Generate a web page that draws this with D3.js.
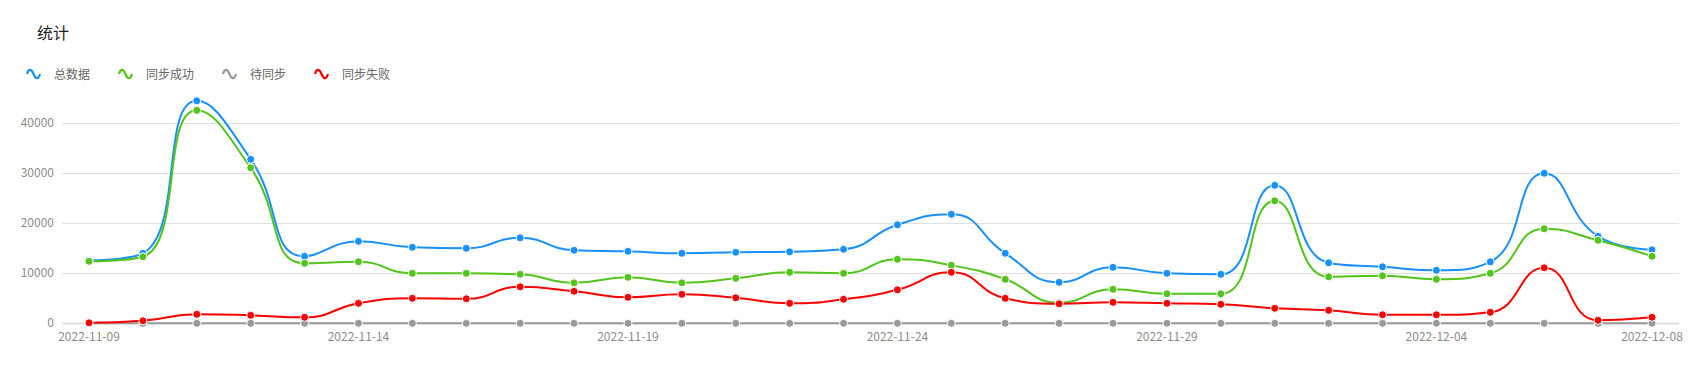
<!DOCTYPE html>
<html>
<head>
<meta charset="utf-8">
<script src="https://cdn.jsdelivr.net/npm/d3@7/dist/d3.min.js"></script>
<style>
html,body{margin:0;padding:0;background:#fff;}
svg{display:block;font-family:"Microsoft YaHei","Noto Sans CJK SC","Noto Sans",sans-serif;}
</style>
</head>
<body>
<svg id="chart" width="1701" height="365"></svg>
<script>
const dates = ["2022-11-09","2022-11-10","2022-11-11","2022-11-12","2022-11-13","2022-11-14","2022-11-15","2022-11-16","2022-11-17","2022-11-18","2022-11-19","2022-11-20","2022-11-21","2022-11-22","2022-11-23","2022-11-24","2022-11-25","2022-11-26","2022-11-27","2022-11-28","2022-11-29","2022-11-30","2022-12-01","2022-12-02","2022-12-03","2022-12-04","2022-12-05","2022-12-06","2022-12-07","2022-12-08"];
const totalData   = [12600,14000,44500,32800,13400,16400,15200,15000,17100,14600,14400,14000,14200,14300,14800,19700,21800,14000,8200,11200,10000,9800,27600,12100,11300,10600,12300,30000,17400,14700];
const successData = [12400,13300,42600,31100,12000,12300,10000,10000,9800,8100,9200,8100,9000,10200,10000,12800,11600,8800,4100,6800,5900,5900,24500,9300,9500,8800,10000,18900,16600,13400];
const pendingData = [0,0,0,0,0,0,0,0,0,0,0,0,0,0,0,0,0,0,0,0,0,0,0,0,0,0,0,0,0,0];
const failedData  = [100,500,1800,1600,1200,4000,5000,4900,7300,6400,5200,5800,5100,4000,4800,6700,10200,5000,3900,4200,4000,3800,3000,2600,1700,1700,2200,11100,600,1200];
const seriesNames = ["总数据","同步成功","待同步","同步失败"];
const seriesColors = ["#1890ff","#52c41a","#999999","#ff0000"];
const yTicks = [0,10000,20000,30000,40000];
const xTickLabels = ["2022-11-09","2022-11-14","2022-11-19","2022-11-24","2022-11-29","2022-12-04","2022-12-08"];
const titleText = "统计";

const svg = d3.select("#chart");
const gridLeft = 62, gridRight = 1679;
const x = d3.scalePoint().domain(dates).range([89, 1652]);
const y = d3.scaleLinear().domain([0, 40000]).range([323.3, 123.3]);

// title
svg.append("text").attr("x", 37).attr("y", 39).attr("font-size", 16).attr("fill", "#222").text(titleText);

// legend
const legendX = [27, 119, 223, 315];
seriesNames.forEach((n, i) => {
  const lx = legendX[i], ly = 74;
  svg.append("path")
    .attr("d", `M${lx},${ly} C${lx+2},${ly-7} ${lx+5},${ly-4} ${lx+6.5},${ly} S${lx+11},${ly+7} ${lx+13},${ly}`)
    .attr("fill", "none").attr("stroke", seriesColors[i]).attr("stroke-width", 2.2);
  svg.append("text").attr("x", lx + 27).attr("y", ly + 4.5).attr("font-size", 12).attr("fill", "#666").text(n);
});

// grid lines
const gGrid = svg.append("g");
yTicks.filter(t => t > 0).forEach(t => {
  gGrid.append("line").attr("x1", gridLeft).attr("x2", gridRight)
    .attr("y1", Math.round(y(t)) + 0.5).attr("y2", Math.round(y(t)) + 0.5)
    .attr("stroke", "#e0e0e0").attr("stroke-width", 1);
});
// y labels
yTicks.forEach(t => {
  svg.append("text").attr("x", 54).attr("y", y(t) + 4).attr("text-anchor", "end")
    .attr("font-size", 12).attr("fill", "#8c8c8c").text(t);
});
// x axis line
svg.append("line").attr("x1", gridLeft).attr("x2", gridRight)
  .attr("y1", Math.round(y(0)) + 0.5).attr("y2", Math.round(y(0)) + 0.5)
  .attr("stroke", "#d9d9d9").attr("stroke-width", 1.5);
// x labels
xTickLabels.forEach(d => {
  svg.append("text").attr("x", x(d)).attr("y", 341).attr("text-anchor", "middle")
    .attr("font-size", 12).attr("fill", "#8c8c8c").text(d);
});

// ECharts-like smooth curve
function EchartsSmooth(context) { this._context = context; }
EchartsSmooth.prototype = {
  areaStart() {}, areaEnd() {},
  lineStart() { this._pts = []; },
  point(px, py) { this._pts.push([+px, +py]); },
  lineEnd() {
    const ctx = this._context, pts = this._pts, smooth = 0.5;
    let cpx0, cpy0, prevX, prevY;
    for (let i = 0; i < pts.length; i++) {
      const [px, py] = pts[i];
      if (i === 0) { ctx.moveTo(px, py); cpx0 = px; cpy0 = py; }
      else {
        let cpx1, cpy1, ncx = px, ncy = py;
        if (i === pts.length - 1) { cpx1 = px; cpy1 = py; }
        else {
          const [nx, ny] = pts[i + 1];
          let vx = nx - prevX, vy = ny - prevY;
          const dx0 = px - prevX, dy0 = py - prevY, dx1 = nx - px, dy1 = ny - py;
          const lp = Math.sqrt(dx0*dx0 + dy0*dy0), ln = Math.sqrt(dx1*dx1 + dy1*dy1);
          const r = ln / (ln + lp);
          ncx = px + vx * smooth * r; ncy = py + vy * smooth * r;
          ncx = Math.min(ncx, Math.max(nx, px)); ncy = Math.min(ncy, Math.max(ny, py));
          ncx = Math.max(ncx, Math.min(nx, px)); ncy = Math.max(ncy, Math.min(ny, py));
          vx = ncx - px; vy = ncy - py;
          cpx1 = px - vx * lp / ln; cpy1 = py - vy * lp / ln;
          cpx1 = Math.min(cpx1, Math.max(prevX, px)); cpy1 = Math.min(cpy1, Math.max(prevY, py));
          cpx1 = Math.max(cpx1, Math.min(prevX, px)); cpy1 = Math.max(cpy1, Math.min(prevY, py));
          vx = px - cpx1; vy = py - cpy1;
          ncx = px + vx * ln / lp; ncy = py + vy * ln / lp;
        }
        ctx.bezierCurveTo(cpx0, cpy0, cpx1, cpy1, px, py);
        cpx0 = ncx; cpy0 = ncy;
      }
      prevX = px; prevY = py;
    }
  }
};
const curve = ctx => new EchartsSmooth(ctx);

const allSeries = [totalData, successData, pendingData, failedData];
const line = d3.line().x((d, i) => x(dates[i])).y(d => y(d)).curve(curve);
allSeries.forEach((data, si) => {
  svg.append("path").datum(data).attr("d", line)
    .attr("fill", "none").attr("stroke", seriesColors[si]).attr("stroke-width", 2);
});
allSeries.forEach((data, si) => {
  svg.append("g").selectAll("circle").data(data).join("circle")
    .attr("cx", (d, i) => x(dates[i])).attr("cy", d => y(d)).attr("r", 4)
    .attr("fill", seriesColors[si]).attr("stroke", "#fff").attr("stroke-width", 1);
});
</script>
</body>
</html>
